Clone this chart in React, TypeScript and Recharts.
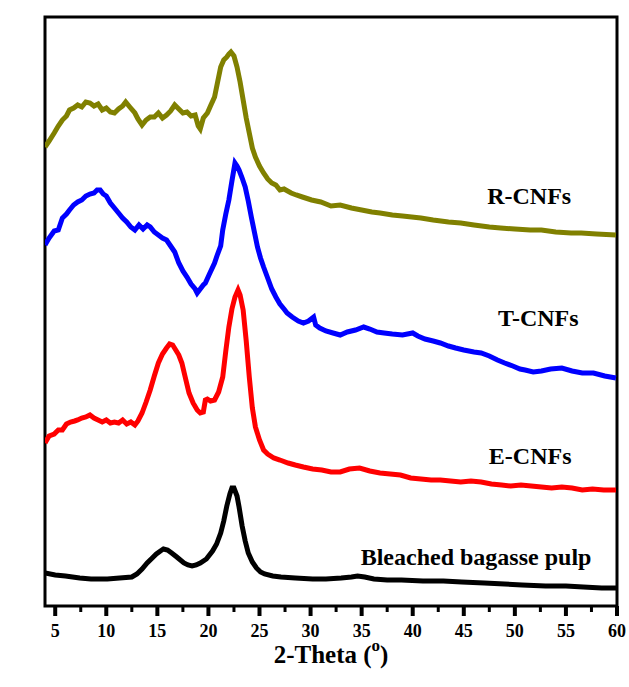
import { LineChart, Line, XAxis, YAxis, ReferenceDot, ReferenceArea, ReferenceLine } from 'recharts';

// [2-theta (deg), counts (arb. units, stacked offsets)]
const rCnfs: [number, number][] = [
  [4.0, 459], [4.4, 465], [4.9, 473], [5.3, 480], [5.7, 486], [6.1, 490], [6.4, 496], [6.8, 498],
  [7.2, 501], [7.6, 499], [8.0, 504], [8.4, 503], [8.8, 500], [9.2, 502], [9.6, 496], [10.0, 498],
  [10.4, 494], [10.8, 493], [11.2, 497], [11.6, 500], [11.9, 504], [12.3, 499], [12.8, 493],
  [13.1, 487], [13.5, 481], [13.9, 486], [14.3, 489], [14.7, 489], [15.1, 493], [15.5, 488],
  [15.9, 491], [16.3, 495], [16.7, 501], [17.1, 497], [17.5, 493], [17.9, 494], [18.3, 490],
  [18.7, 491], [19.0, 480], [19.2, 477], [19.5, 488], [19.9, 493], [20.2, 500], [20.6, 509],
  [20.9, 524], [21.2, 539], [21.5, 546], [21.8, 549], [22.0, 552], [22.2, 554], [22.5, 550],
  [22.8, 539], [23.1, 524], [23.4, 506], [23.7, 488], [24.0, 473], [24.3, 458], [24.6, 449],
  [25.0, 440], [25.4, 433], [25.8, 427], [26.2, 423], [26.6, 421], [27.0, 416], [27.4, 417],
  [28.1, 413], [28.6, 411], [29.2, 409], [30.1, 406], [31.0, 404], [32.0, 400], [32.9, 401],
  [34.0, 398], [35.0, 396], [36.0, 394], [36.8, 393], [38.0, 391], [39.0, 390], [40.8, 388],
  [42.0, 386], [43.5, 384], [44.7, 383], [46.0, 381], [47.5, 379], [48.6, 378], [50.0, 377],
  [51.5, 376], [52.6, 376], [54.0, 374], [55.5, 373], [56.5, 373], [58.0, 372], [59.9, 371]
];

const tCnfs: [number, number][] = [
  [4.0, 361], [4.4, 368], [4.9, 375], [5.3, 376], [5.7, 388], [6.1, 392], [6.4, 396], [6.8, 401],
  [7.2, 404], [7.6, 406], [8.0, 410], [8.4, 412], [8.8, 413], [9.1, 416], [9.4, 416], [9.7, 412],
  [10.0, 410], [10.4, 403], [10.8, 398], [11.2, 393], [11.6, 388], [12.0, 384], [12.4, 379],
  [12.8, 376], [13.2, 381], [13.6, 377], [14.0, 381], [14.3, 379], [14.7, 374], [15.1, 371],
  [15.5, 368], [15.9, 366], [16.3, 360], [16.7, 354], [17.1, 343], [17.5, 335], [17.9, 329],
  [18.3, 322], [18.7, 317], [18.9, 313], [19.2, 317], [19.5, 321], [19.7, 323], [20.1, 332],
  [20.6, 343], [20.9, 352], [21.2, 360], [21.4, 376], [21.7, 392], [22.0, 406], [22.3, 425],
  [22.6, 443], [22.8, 440], [23.0, 436], [23.3, 428], [23.6, 419], [23.9, 405], [24.2, 389],
  [24.5, 374], [24.8, 359], [25.1, 348], [25.4, 339], [25.8, 328], [26.2, 317], [26.6, 309],
  [27.0, 302], [27.4, 297], [27.7, 293], [28.2, 289], [28.8, 285], [29.3, 283], [29.8, 285],
  [30.3, 289], [30.5, 281], [30.9, 278], [31.5, 275], [32.2, 273], [32.9, 271], [33.6, 274],
  [34.4, 276], [35.2, 279], [35.8, 277], [36.5, 274], [37.2, 273], [38.0, 272], [39.0, 271],
  [40.0, 273], [40.5, 270], [41.2, 267], [42.0, 265], [42.7, 263], [43.5, 260], [44.2, 258],
  [45.0, 256], [46.0, 254], [46.7, 253], [47.5, 250], [48.3, 246], [49.0, 243], [49.8, 240],
  [50.5, 237], [51.0, 236], [51.8, 234], [52.6, 235], [53.5, 237], [54.6, 238], [55.6, 235],
  [56.6, 233], [57.7, 233], [58.8, 230], [59.9, 228]
];

const eCnfs: [number, number][] = [
  [4.0, 163], [4.4, 170], [4.9, 172], [5.3, 176], [5.7, 176], [6.1, 182], [6.5, 184], [6.9, 185],
  [7.2, 186], [7.6, 188], [8.0, 189], [8.4, 191], [8.8, 188], [9.2, 186], [9.6, 184], [10.0, 186],
  [10.4, 183], [10.8, 184], [11.2, 183], [11.6, 186], [12.0, 182], [12.4, 184], [12.8, 181],
  [13.1, 185], [13.5, 193], [13.9, 204], [14.3, 216], [14.7, 230], [15.1, 243], [15.5, 252],
  [15.9, 258], [16.2, 262], [16.5, 261], [16.8, 256], [17.1, 251], [17.4, 243], [17.7, 230],
  [18.1, 213], [18.5, 203], [18.9, 196], [19.2, 193], [19.5, 194], [19.7, 206], [19.9, 207],
  [20.2, 205], [20.6, 206], [21.0, 214], [21.4, 229], [21.7, 255], [22.0, 279], [22.3, 297],
  [22.6, 309], [22.9, 316], [23.1, 311], [23.4, 296], [23.7, 265], [24.0, 229], [24.3, 198],
  [24.6, 179], [25.0, 166], [25.4, 156], [25.8, 152], [26.4, 148], [27.0, 146], [27.8, 143],
  [28.5, 141], [29.3, 139], [30.2, 137], [31.1, 136], [32.0, 134], [32.9, 134], [33.8, 137],
  [34.8, 138], [35.8, 135], [36.8, 133], [37.8, 132], [38.8, 131], [39.8, 128], [40.8, 127],
  [41.8, 126], [42.7, 126], [43.7, 125], [44.7, 124], [45.7, 125], [46.7, 124], [47.7, 122],
  [48.7, 121], [49.6, 120], [50.6, 121], [51.6, 120], [52.6, 119], [53.6, 118], [54.6, 119],
  [55.6, 118], [56.6, 116], [57.6, 117], [58.7, 116], [59.9, 116]
];

const bagassePulp: [number, number][] = [
  [4.0, 33], [5.0, 31], [6.0, 30], [7.4, 28], [8.5, 27], [10.1, 27], [11.3, 28], [12.5, 29],
  [13.0, 32], [13.5, 37], [14.0, 43], [14.5, 48], [14.9, 52], [15.3, 55], [15.6, 57], [16.0, 56],
  [16.4, 53], [16.9, 49], [17.6, 43], [18.0, 41], [18.4, 40], [18.8, 41], [19.2, 43], [19.8, 47],
  [20.4, 55], [20.8, 62], [21.2, 73], [21.5, 85], [21.8, 100], [22.1, 112], [22.3, 118],
  [22.5, 118], [22.8, 110], [23.0, 99], [23.3, 80], [23.6, 65], [23.9, 53], [24.3, 44],
  [24.7, 38], [25.1, 34], [25.5, 32], [26.3, 30], [27.1, 29], [28.5, 28], [30.2, 27], [31.5, 27],
  [33.0, 28], [34.0, 29], [34.6, 30], [35.3, 29], [36.2, 27], [37.5, 26], [38.9, 26], [41.0, 25],
  [43.0, 25], [44.8, 24], [47.0, 23], [49.0, 22], [50.7, 21], [53.0, 20], [55.0, 20], [56.7, 19],
  [58.5, 18], [60.0, 18]
];

const majorTicks = [5, 10, 15, 20, 25, 30, 35, 40, 45, 50, 55, 60];
const minorTicks = [7.5, 12.5, 17.5, 22.5, 27.5, 32.5, 37.5, 42.5, 47.5, 52.5, 57.5];

const X_MIN = 4;
const X_MAX = 60;
const Y_MAX = 589;

const toPoints = (rows: [number, number][]) => rows.map(([x, y]) => ({ x, y }));

const FONT = '"Liberation Serif", "Times New Roman", serif';

const XTick = (props: any) => {
  const { x, y, payload } = props;
  return (
    <text x={x} y={y + 31} textAnchor="middle" fontFamily={FONT} fontWeight="bold" fontSize={18} fill="#000">
      {payload.value}
    </text>
  );
};

const XLabel = (props: any) => {
  const { viewBox } = props;
  const cx = viewBox.x + viewBox.width / 2;
  return (
    <text x={cx} y={viewBox.y + 57} textAnchor="middle" fontFamily={FONT} fontWeight="bold" fontSize={25} fill="#000">
      2-Theta (<tspan dy={-12} fontSize={17}>o</tspan><tspan dy={12}>)</tspan>
    </text>
  );
};

const YLabel = (props: any) => {
  const { viewBox } = props;
  const x = viewBox.x - 18;
  const y = 264;
  return (
    <text x={x} y={y} transform={`rotate(-90 ${x} ${y})`} textAnchor="middle" fontFamily={FONT} fontWeight="bold" fontSize={21} fill="#000">
      Counts
    </text>
  );
};

const seriesLabel = (value: string) => ({
  value,
  position: 'center' as const,
  fontFamily: FONT,
  fontWeight: 'bold',
  fontSize: 24,
  fill: '#000'
});

export default function App() {
  return (
    <div style={{ position: 'absolute', left: 0, top: 0, background: '#fff' }}>
      <LineChart width={629} height={687} margin={{ top: 17, right: 12, bottom: 0, left: 45 }}>
        <XAxis
          dataKey="x"
          type="number"
          domain={[X_MIN, X_MAX]}
          ticks={majorTicks}
          interval={0}
          allowDataOverflow
          height={81}
          tickSize={0}
          tickMargin={0}
          tickLine={false}
          tick={<XTick />}
          axisLine={false}
          label={{ content: <XLabel /> }}
        />
        <YAxis
          type="number"
          domain={[0, Y_MAX]}
          width={0}
          tick={false}
          tickLine={false}
          axisLine={false}
          label={{ content: <YLabel /> }}
        />

        <Line data={toPoints(bagassePulp)} dataKey="y" type="linear" stroke="#000000" strokeWidth={5} dot={false} isAnimationActive={false} />
        <Line data={toPoints(eCnfs)} dataKey="y" type="linear" stroke="#ff0000" strokeWidth={5} dot={false} isAnimationActive={false} />
        <Line data={toPoints(tCnfs)} dataKey="y" type="linear" stroke="#0000ff" strokeWidth={5} dot={false} isAnimationActive={false} />
        <Line data={toPoints(rCnfs)} dataKey="y" type="linear" stroke="#808000" strokeWidth={5} dot={false} isAnimationActive={false} />

        <ReferenceArea x1={X_MIN} x2={X_MAX} y1={0} y2={Y_MAX} fill="none" fillOpacity={0} stroke="#000" strokeWidth={3} strokeOpacity={1} ifOverflow="visible" />

        {majorTicks.map((t) => (
          <ReferenceLine key={`mj-${t}`} segment={[{ x: t, y: 0 }, { x: t, y: -10 }]} stroke="#000" strokeWidth={4} ifOverflow="visible" />
        ))}
        {minorTicks.map((t) => (
          <ReferenceLine key={`mn-${t}`} segment={[{ x: t, y: 0 }, { x: t, y: -6 }]} stroke="#000" strokeWidth={3} ifOverflow="visible" />
        ))}

        <ReferenceDot x={51.4} y={411} r={0} fill="none" stroke="none" label={seriesLabel('R-CNFs')} />
        <ReferenceDot x={52.3} y={289} r={0} fill="none" stroke="none" label={seriesLabel('T-CNFs')} />
        <ReferenceDot x={51.5} y={151} r={0} fill="none" stroke="none" label={seriesLabel('E-CNFs')} />
        <ReferenceDot x={46.2} y={50} r={0} fill="none" stroke="none" label={seriesLabel('Bleached bagasse pulp')} />
      </LineChart>
    </div>
  );
}
